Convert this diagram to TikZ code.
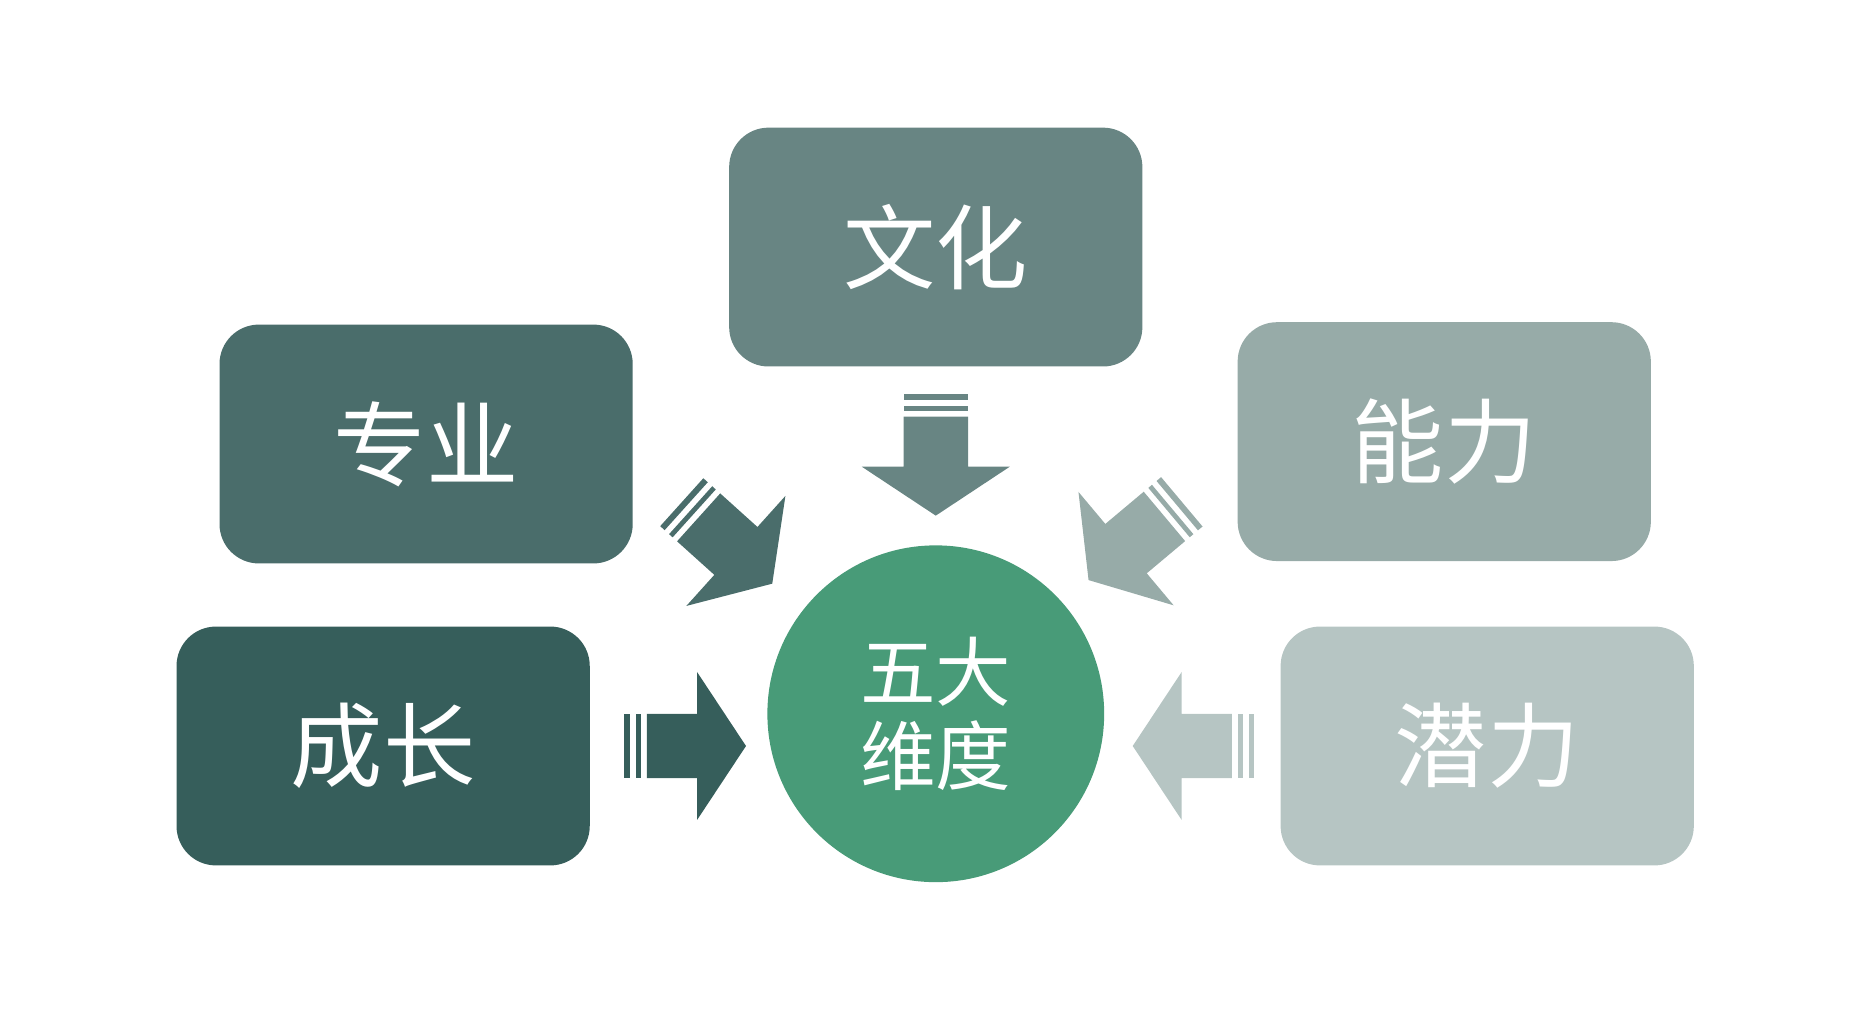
\documentclass[tikz,border=0pt]{standalone}
\usepackage{fontspec}
\newfontfamily\cjk{Noto Sans CJK SC}
\definecolor{cA}{HTML}{688583}
\definecolor{cB}{HTML}{4A6D6B}
\definecolor{cC}{HTML}{97ABA8}
\definecolor{cD}{HTML}{365E5B}
\definecolor{cE}{HTML}{B6C5C3}
\definecolor{cM}{HTML}{489B78}
\tikzset{
 box/.style={rounded corners=0.33cm,minimum width=3.46cm,minimum height=2.0cm,text=white,font=\cjk\fontsize{22}{26}\selectfont,inner sep=0pt},
 pics/sarrow/.style={code={
  \fill (0,0) -- (-41,62) -- (-41,27) -- (-83,27) -- (-83,-27) -- (-41,-27) -- (-41,-62) -- cycle;
  \fill (-88,27) rectangle (-92,-27);
  \fill (-97,27) rectangle (-102,-27);
 }}
}
\begin{document}
\begin{tikzpicture}[x=0.01cm,y=0.01cm]
\useasboundingbox (0,0) rectangle (1560,857);
\node[box,fill=cA] (wh) at (784,650) {文化};
\node[box,fill=cB] (zy) at (357,485) {专业};
\node[box,fill=cC] (nl) at (1210,487) {能力};
\node[box,fill=cD] (cz) at (321,232) {成长};
\node[box,fill=cE] (ql) at (1246,232) {潜力};
\node[circle,fill=cM,minimum size=2.82cm,inner sep=0pt,text=white,align=center,font=\cjk\fontsize{18}{20}\selectfont] (c) at (784,259) {五大\\维度};
\pic[fill=cA,shift={(784,425)},rotate=-90] {sarrow};
\pic[fill=cD,shift={(625,232)}] {sarrow};
\pic[fill=cE,shift={(949,232)},rotate=180] {sarrow};
\pic[fill=cB,shift={(647,368)},rotate=-42] {sarrow};
\pic[fill=cC,shift={(912,371)},rotate=220] {sarrow};
\end{tikzpicture}
\end{document}
